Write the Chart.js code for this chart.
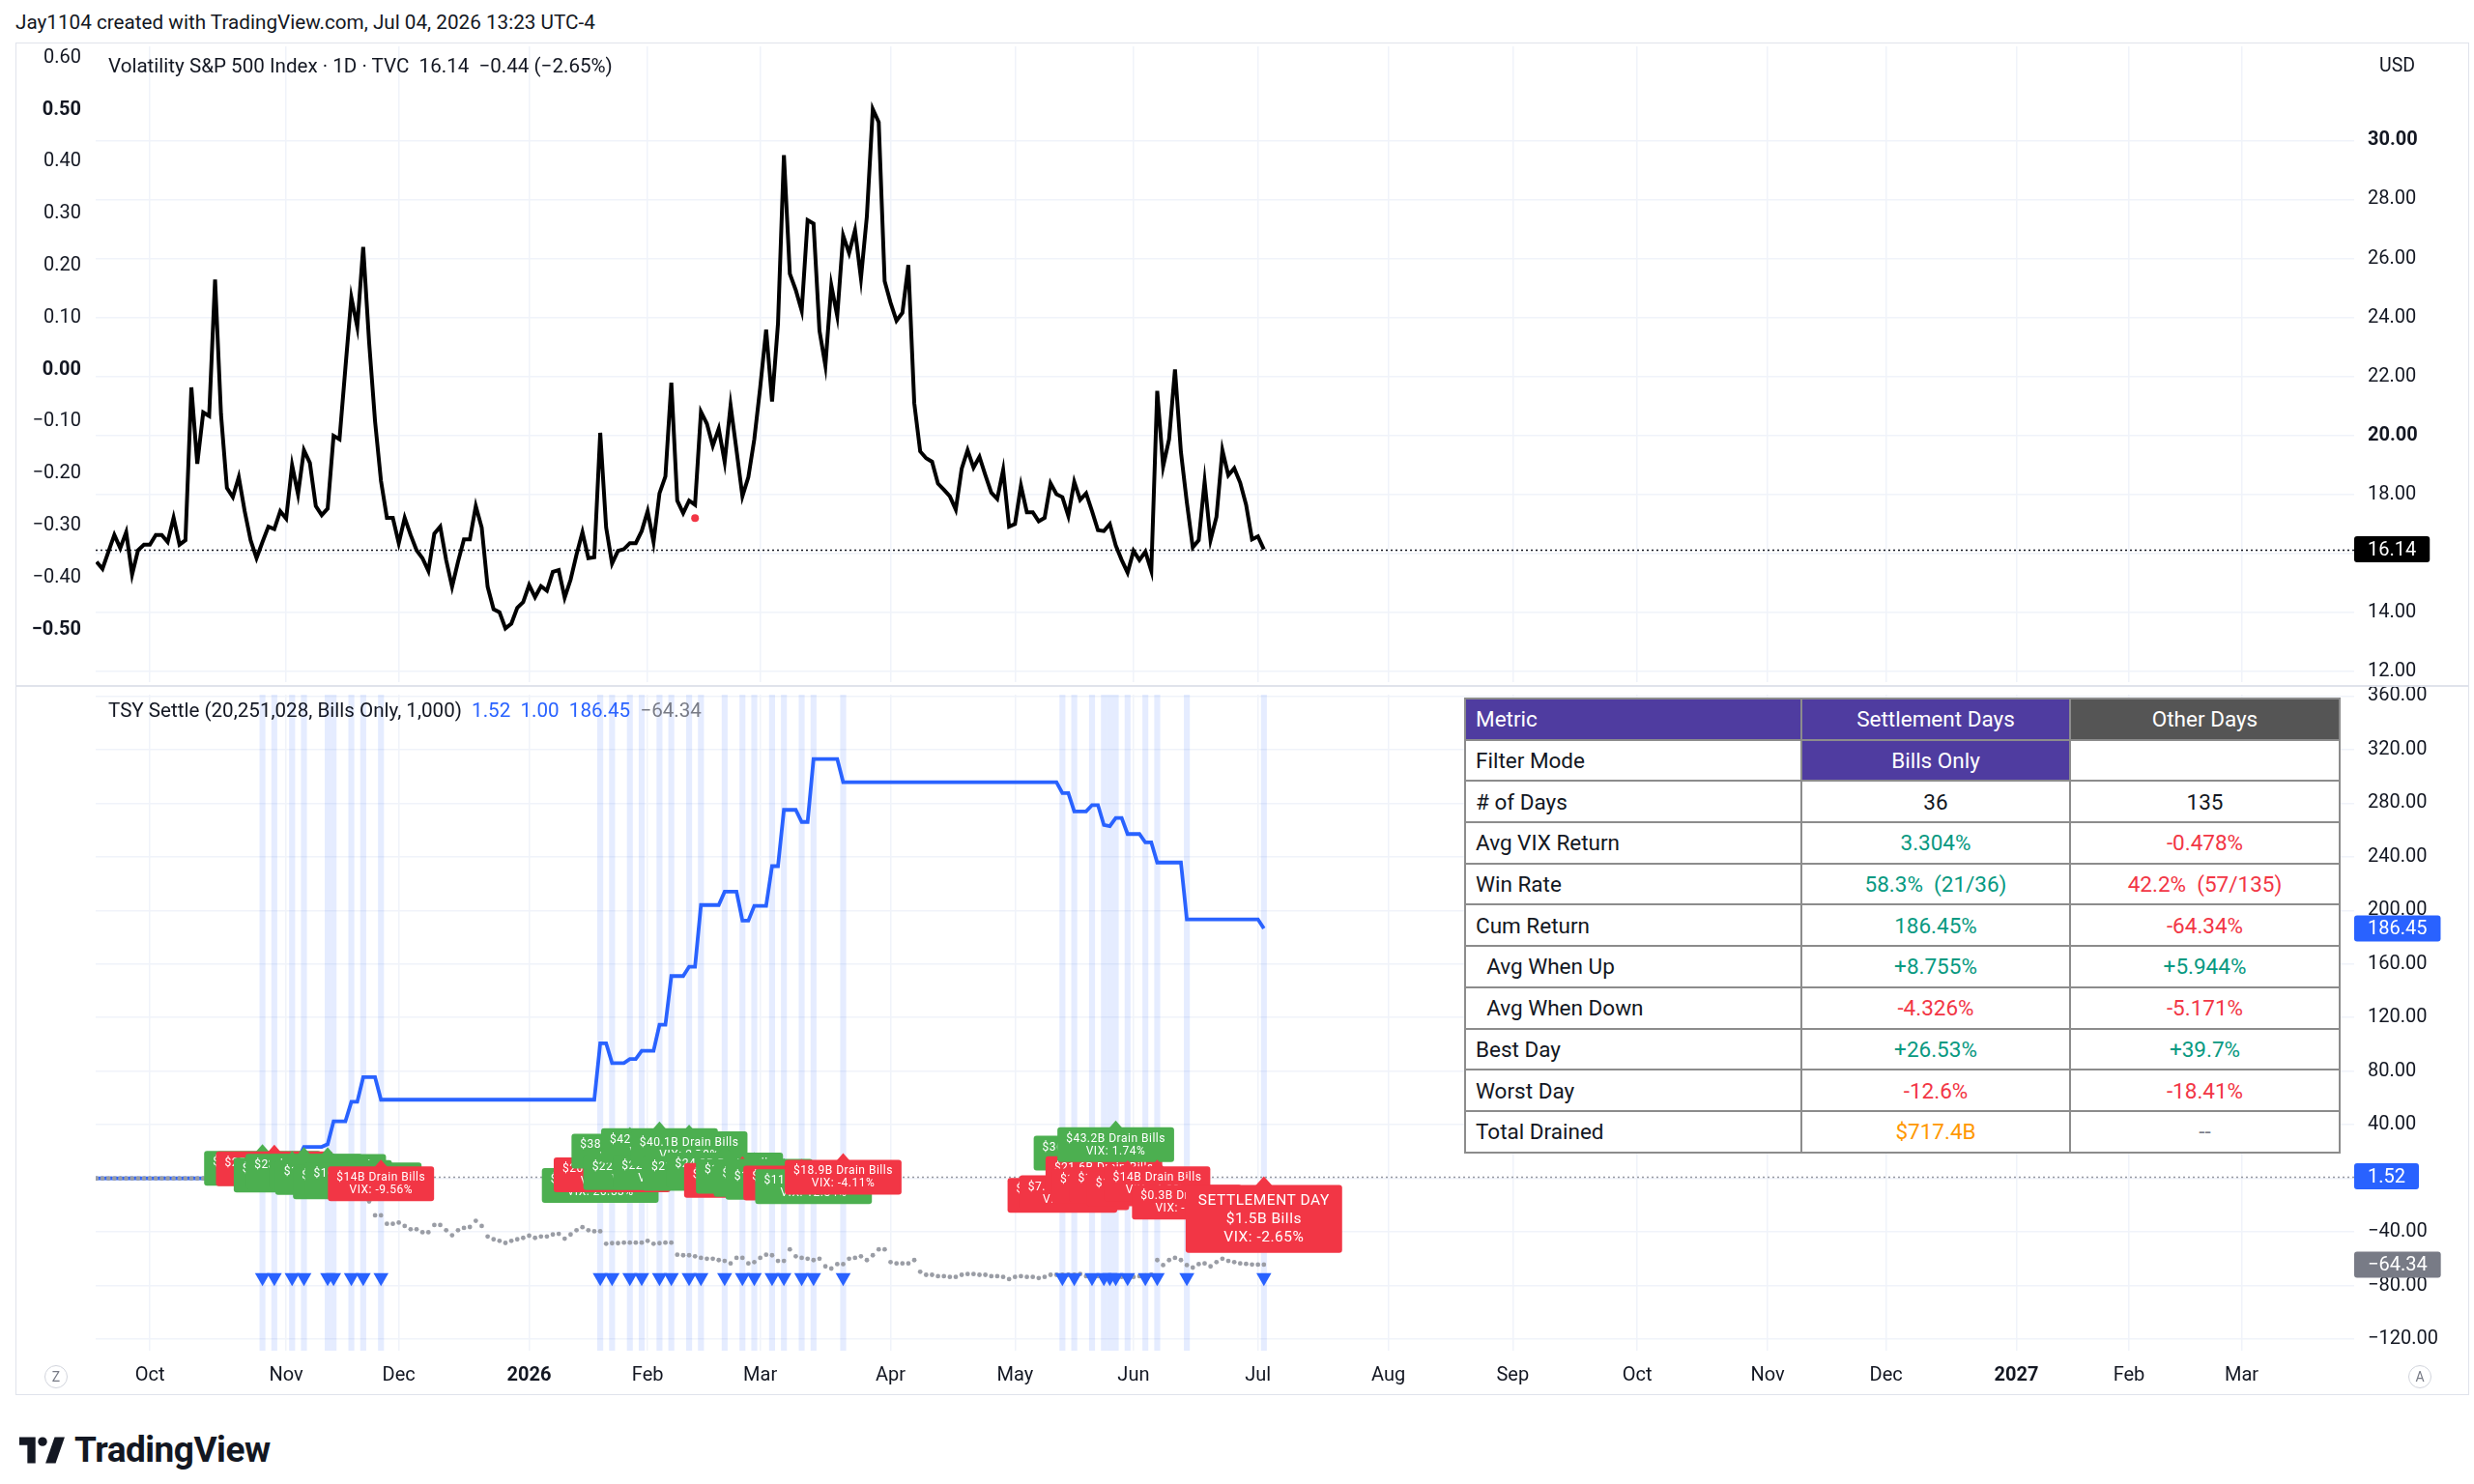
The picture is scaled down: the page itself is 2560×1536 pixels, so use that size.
<!DOCTYPE html>
<html>
<head>
<meta charset="utf-8">
<title>VIX / TSY Settle</title>
<script src="https://cdn.jsdelivr.net/npm/chart.js@4.4.1/dist/chart.umd.min.js"></script>
<style>
  body { margin:0; width:2560px; height:1536px; background:#fff; overflow:hidden; position:relative;
         font-family: Roboto, "Liberation Sans", sans-serif; color:#131722; }
  .abs { position:absolute; }
  #credit { left:16px; top:11px; font-size:20.7px; }
  #frame { left:16px; top:44px; width:2539px; height:1400px; border:1.5px solid #e0e3eb; box-sizing:border-box; }
  #sep { left:16px; top:709px; width:2539px; height:2px; background:#e0e3eb; }
  #topCanvas { left:16px; top:44px; }
  #botCanvas { left:16px; top:710px; }
  .legend { font-size:20.6px; white-space:pre; }
  #legTop { left:112px; top:56px; }
  #legBot { left:112px; top:723px; }
  .blue { color:#2962ff; }
  .grey { color:#787b86; }
  #usd { left:2462px; top:56px; font-size:19.5px; }
  .btn { width:22px; height:22px; border-radius:50%; border:1px solid #d1d4dc; font-size:14px; color:#787b86;
         display:flex; align-items:center; justify-content:center; }
  #stats { left:1515px; top:722px; border-collapse:collapse; font-size:22.5px; background:#fff; }
  #stats td { border:2px solid #8c8c8c; padding:0 10px; white-space:pre; height:42.7px; box-sizing:border-box; }
  #logo { left:20px; top:1479px; display:flex; align-items:center; gap:9px; }
</style>
</head>
<body>
<div id="credit" class="abs">Jay1104 created with TradingView.com, Jul 04, 2026 13:23 UTC-4</div>
<div id="frame" class="abs"></div>
<canvas id="topCanvas" class="abs" width="2539" height="666"></canvas>
<canvas id="botCanvas" class="abs" width="2539" height="734"></canvas>
<div id="sep" class="abs"></div>
<div id="legTop" class="abs legend">Volatility S&amp;P 500 Index · 1D · TVC  16.14  −0.44 (−2.65%)</div>
<div id="legBot" class="abs legend">TSY Settle (20,251,028, Bills Only, 1,000)  <span class="blue">1.52  1.00  186.45</span>  <span class="grey">−64.34</span></div>
<div id="usd" class="abs">USD</div>
<div class="abs btn" style="left:46px;top:1413px">Z</div>
<div class="abs btn" style="left:2492px;top:1413px">A</div>
<table id="stats" class="abs"></table>
<div id="logo" class="abs">
  <svg width="48" height="28" viewBox="0 0 46 26"><path d="M0 0H16V26H8V8H0Z" fill="#131722"/><circle cx="23" cy="4.5" r="4.5" fill="#131722"/><path d="M26 26L35 0H45L36 26Z" fill="#131722"/></svg>
  <span style="font-size:37px;font-weight:700;letter-spacing:-0.5px">TradingView</span>
</div>

<script>
// bar index 0 = first daily bar on the chart; month ticks sit on the first bar of each month
const monthIdx    = [9, 32, 51, 73, 93, 112, 134, 155, 175, 196, 218, 239, 260, 282, 302, 324, 343, 362]
const monthLabels = ['Oct','Nov','Dec','2026','Feb','Mar','Apr','May','Jun','Jul','Aug','Sep','Oct','Nov','Dec','2027','Feb','Mar']

// VIX daily close
const vixClose = [
  15.72,15.48,16.06,16.63,16.18,16.72,15.29,16.11,16.30,16.30,
  16.63,16.63,16.39,17.21,16.30,16.45,21.63,19.04,20.78,20.66,
  25.29,20.72,18.22,17.91,18.59,17.43,16.45,15.84,16.39,16.91,
  16.83,17.43,17.18,18.99,18.01,19.50,19.07,17.61,17.30,17.52,
  19.99,19.87,22.30,24.68,23.68,26.39,23.16,20.48,18.46,17.21,
  17.21,16.35,17.21,16.63,16.11,15.84,15.41,16.67,16.91,15.78,
  14.87,15.72,16.48,16.48,17.61,16.88,14.87,14.11,14.01,13.46,
  13.62,14.16,14.35,14.93,14.52,14.89,14.74,15.38,15.44,14.50,
  15.11,15.96,16.72,15.84,15.87,20.09,16.88,15.66,16.09,16.15,
  16.35,16.35,16.76,17.43,16.39,18.04,18.61,21.79,17.79,17.37,
  17.79,17.65,20.80,20.40,19.65,20.23,19.10,21.02,19.50,17.94,
  18.59,19.87,21.63,23.59,21.15,23.79,29.50,25.48,24.93,24.23,
  27.30,27.18,23.55,22.37,25.09,24.05,26.78,26.18,26.96,25.33,
  27.43,31.06,30.62,25.23,24.50,23.89,24.16,25.78,21.09,19.46,
  19.23,19.11,18.37,18.16,17.94,17.49,18.87,19.50,18.91,19.28,
  18.65,18.06,17.85,18.83,16.91,17.00,18.30,17.40,17.40,17.09,
  17.21,18.38,18.01,17.91,17.27,18.43,17.82,18.04,17.43,16.79,
  16.76,17.00,16.27,15.78,15.35,16.09,15.78,16.06,15.41,21.51,
  18.95,19.87,22.24,19.44,17.73,16.21,16.45,18.44,16.45,17.24,
  19.50,18.65,18.89,18.40,17.65,16.48,16.58,16.14
]
const redDotIdx = [101]
const redDotVal = [17.2]

// settlement days: bar index, cumulative return after the day (%), VIX move that day (%), bills drained ($B)
const settleDays = [28,30,33,35,39,40,43,45,48, 85,87,90,92,95,97,100,102,106,109,111,114,116,119,121,126,
                    163,165,168,170,171,172,174,177,179,184,197]
const settleCum = [3.5,3.0,14.4,23.5,25.5,42.6,57.1,75.5,58.7,
                   100.8,86,89,95.2,114.6,151,158,204,214,192.3,203.4,233,275,266,313,295.7,
                   287.5,273.9,278.6,263.7,262.8,269,257,250.7,235.7,193.3,186.45]
const settleVixPct = [3.50,-0.48,11.07,7.95,1.62,13.63,10.17,11.72,-9.56,
                      26.53,-7.37,1.61,3.28,9.94,16.96,2.79,17.83,3.29,-6.91,3.80,9.76,12.61,-2.40,12.84,-4.11,
                      -2.15,-3.52,1.26,-3.94,-0.25,1.74,-3.25,-1.76,-4.28,-12.6,-2.65]
const settleDrain = [25.6,25.2,20.5,23.4,23.1,18.7,15.5,16.8,14.0,
                     12.8,20.6,38.4,22.3,42.5,22.7,40.1,21.8,24.3,16.5,19.6,17.2,15.1,14.6,11.9,18.9,
                     5.4,7.3,36.8,21.6,12.4,43.2,13.5,10.2,14.0,0.3,1.52]

// cumulative return of the other (non-settlement) days, one value per bar
const otherCum = [
  0,0,0,0,0,0,0,0,0,0, 0,0,0,0,0,0,0,0,0,0, 0,0,0,0,0,0,0,0,
  0,3.2,3.2,6.4,4.9,4.9,-0.6,-0.6,-2.7,-10.2,-11.8,-11.8,-11.8,-12.4,-1.7,-1.7,-5.7,-5.7,-17.2,
  -27.6,-27.6,-33.9,-33.9,-33,-35.5,-38,-38,-40.2,-40.2,-34.8,-34.8,-38.7,-42.5,-38.7,-37,-36.3,
  -31.7,-35.5,-43.4,-45.5,-46.6,-48.2,-46.6,-45.5,-44.4,-42.8,-44.4,-43.4,-43.4,-41.9,-41.4,-45,
  -41.9,-38.7,-36.4,-38.7,-39.5,-39.5,-48.8,-48.4,-48.4,-48,-48,-48,-48,-46.6,-48.8,-48.4,-48,-48,
  -57,-57.4,-57.4,-58.2,-59.3,-60,-60,-61,-61.6,-63.5,-59.3,-59.3,-63.5,-62.5,-59.3,-57,-57.4,
  -61.6,-61.6,-53,-58.2,-59.3,-60,-61,-60,-65.7,-67.3,-64,-64,-60,-59.3,-58.2,-61,-57.4,-53,-53,
  -62.5,-63.5,-63.5,-63.5,-61,-69.7,-72,-72,-73,-73,-73.6,-73.6,-72,-71.4,-71.4,-72,-72,-73,-73,
  -73.6,-75.2,-73.6,-73,-73.6,-73.6,-74.4,-73.6,-72,-72,-72,-72,-72,-71.4,-73,-73,-73,-73,-73,-73,
  -73.6,-73.6,-73.6,-73,-72.5,-72,-61,-64.7,-61,-59.3,-61,-64.7,-66.6,-64,-63.5,-65.7,-62.5,-60,
  -61.6,-62.5,-63.5,-63.8,-64.3,-64.34,-64.34
]
const TRIANGLE_LEVEL = -74

const leftTicks = [0.6,0.5,0.4,0.3,0.2,0.1,0,-0.1,-0.2,-0.3,-0.4,-0.5]
const vixTicks  = [12,14,16,18,20,22,24,26,28,30]
const tsyTicks  = [-120,-80,-40,0,40,80,120,160,200,240,280,320,360]

// stats table
const statHead   = ['Metric','Settlement Days','Other Days']
const statMetric = ['Filter Mode','# of Days','Avg VIX Return','Win Rate','Cum Return','  Avg When Up','  Avg When Down','Best Day','Worst Day','Total Drained']
const statSettle = ['Bills Only','36','3.304%','58.3%  (21/36)','186.45%','+8.755%','-4.326%','+26.53%','-12.6%','$717.4B']
const statOther  = ['','135','-0.478%','42.2%  (57/135)','-64.34%','+5.944%','-5.171%','+39.7%','-18.41%','--']

const GREEN = '#089981', RED = '#f23645'
const colorOf = t => t === '--' ? '#787b86' : t.startsWith('$') ? '#ff9800' : t.startsWith('-') ? RED : (t.includes('%') ? GREEN : '#131722')

// build table
let html = '<tr>' + statHead.map((h, i) =>
  `<td style="width:${[348,278,279][i]}px;background:${i == 2 ? '#555555' : '#4f3ca0'};color:#fff;text-align:${i ? 'center' : 'left'}">${h}</td>`).join('') + '</tr>'
statMetric.forEach((m, r) => {
  let s = statSettle[r], o = statOther[r]
  let sStyle = r == 0 ? 'background:#4f3ca0;color:#fff' : 'color:' + (r == 3 ? GREEN : colorOf(s))
  let oStyle = 'color:' + (r == 3 ? RED : colorOf(o))
  html += `<tr><td>${m}</td><td style="text-align:center;${sStyle}">${s}</td><td style="text-align:center;${oStyle}">${o}</td></tr>`
})
document.getElementById('stats').innerHTML = html

// ---- helpers ----
const fmt = (v, d) => (v < 0 ? '\u2212' : '') + Math.abs(v).toFixed(d)
const short = (v, d) => String(Number(v.toFixed(d)))
const AXIS_FONT = 20
const FONT = 'Roboto, "Liberation Sans", sans-serif'
Chart.defaults.font.family = FONT
Chart.defaults.color = '#131722'

function roundRect(ctx, x, y, w, h, r) {
  ctx.beginPath()
  ctx.moveTo(x + r, y)
  ctx.arcTo(x + w, y, x + w, y + h, r)
  ctx.arcTo(x + w, y + h, x, y + h, r)
  ctx.arcTo(x, y + h, x, y, r)
  ctx.arcTo(x, y, x + w, y, r)
  ctx.closePath()
}

function xAxis(showLabels) {
  return {
    type: 'linear', min: -0.15, max: 381,
    afterBuildTicks: s => { s.ticks = monthIdx.map(v => ({ value: v })) },
    ticks: {
      display: showLabels, autoSkip: false, maxRotation: 0, padding: 14,
      callback: (v, i) => monthLabels[i],
      font: c => ({ size: AXIS_FONT, weight: /^\d{4}$/.test(monthLabels[c.index] || '') ? 'bold' : 'normal' })
    },
    grid: { color: '#f0f3fa', lineWidth: 1.5, drawTicks: false },
    border: { display: false },
    afterFit: s => { s.height = showLabels ? 46 : 0; s.paddingLeft = 0; s.paddingRight = 0 }
  }
}

function yAxis(pos, min, max, ticks, label, bold, grid) {
  return {
    type: 'linear', position: pos, min: min, max: max,
    afterBuildTicks: s => { s.ticks = ticks.map(v => ({ value: v })) },
    ticks: {
      display: !!label, padding: pos == 'left' ? 15 : 14,
      callback: v => label ? label(v) : '',
      font: c => ({ size: AXIS_FONT, weight: bold && c.tick && bold(c.tick.value) ? 'bold' : 'normal' })
    },
    grid: { display: grid, color: '#f0f3fa', lineWidth: 1.5, drawTicks: false },
    border: { display: false },
    afterFit: s => { s.width = pos == 'left' ? 83 : 119; s.paddingTop = 0; s.paddingBottom = 0 }
  }
}

// dotted last-value lines
const priceLines = {
  id: 'priceLines',
  beforeDatasetsDraw(chart, args, opts) {
    const { ctx, chartArea: a } = chart
    const y = chart.scales.yR
    ctx.save()
    ctx.lineWidth = 1.3
    ctx.setLineDash([2, 3])
    ;(opts.lines || []).forEach(l => {
      const py = Math.round(y.getPixelForValue(l.v)) + 0.5
      ctx.strokeStyle = l.color
      ctx.beginPath(); ctx.moveTo(a.left, py); ctx.lineTo(a.right, py); ctx.stroke()
    })
    ctx.restore()
  }
}

// value badges on the right scale
const badges = {
  id: 'badges',
  afterDraw(chart, args, opts) {
    const { ctx, chartArea: a } = chart
    const y = chart.scales.yR
    ctx.save()
    ctx.font = AXIS_FONT + 'px ' + FONT
    ctx.textBaseline = 'middle'
    ;(opts.items || []).forEach(b => {
      const t = fmt(b.v, 2)
      const w = ctx.measureText(t).width + 28, h = 27
      const py = y.getPixelForValue(b.v)
      ctx.fillStyle = b.bg
      roundRect(ctx, a.right, py - h / 2, w, h, 3); ctx.fill()
      ctx.fillStyle = '#fff'
      ctx.fillText(t, a.right + 14, py + 1)
    })
    ctx.restore()
  }
}

// light blue background on settlement days
const bands = {
  id: 'bands',
  beforeDatasetsDraw(chart) {
    const { ctx, chartArea: a, scales: { x } } = chart
    const bw = x.getPixelForValue(1) - x.getPixelForValue(0)
    ctx.save()
    ctx.fillStyle = 'rgba(41,98,255,0.12)'
    settleDays.forEach(d => {
      const px = x.getPixelForValue(d)
      ctx.fillRect(px - bw / 2, a.top, bw, a.bottom - a.top)
    })
    ctx.restore()
  }
}

// label_up boxes for each settlement day
const settleLabels = {
  id: 'settleLabels',
  afterDatasetsDraw(chart) {
    const { ctx, scales: { x, yR } } = chart
    ctx.save()
    if ('letterSpacing' in ctx) ctx.letterSpacing = '0.5px'
    settleDays.forEach((d, k) => {
      const last = k == settleDays.length - 1
      const pct = 'VIX: ' + short(settleVixPct[k], 2) + '%'
      const lines = last
        ? ['SETTLEMENT DAY', '$' + short(settleDrain[k], 1) + 'B Bills', pct]
        : ['$' + short(settleDrain[k], 1) + 'B Drain Bills', pct]
      const fs = last ? 15.5 : 12, lh = last ? 18.7 : 13, pad = last ? 7 : 5
      ctx.font = fs + 'px ' + FONT
      const w = Math.max(...lines.map(t => ctx.measureText(t).width)) + (last ? 26 : 18)
      const h = lines.length * lh + pad * 2
      const px = x.getPixelForValue(d), py = yR.getPixelForValue(settleDrain[k])
      const ar = last ? 9 : 7
      const top = py + ar
      ctx.fillStyle = settleVixPct[k] >= 0 ? '#4caf50' : '#f23645'
      ctx.beginPath(); ctx.moveTo(px, py); ctx.lineTo(px - ar, top + 1); ctx.lineTo(px + ar, top + 1); ctx.closePath(); ctx.fill()
      roundRect(ctx, px - w / 2, top, w, h, 3); ctx.fill()
      ctx.fillStyle = '#fff'
      ctx.textAlign = 'center'
      ctx.textBaseline = 'middle'
      lines.forEach((t, j) => ctx.fillText(t, px, top + pad + lh * (j + 0.5) + 0.5))
    })
    ctx.restore()
  }
}

const base = {
  responsive: false, animation: false, devicePixelRatio: 1, events: [],
  layout: { padding: 0 }
}

// ---- top pane: VIX ----
new Chart(document.getElementById('topCanvas'), {
  type: 'line',
  data: {
    datasets: [
      { type: 'scatter', data: redDotIdx.map((d, i) => ({ x: d, y: redDotVal[i] })), yAxisID: 'yR',
        pointRadius: 4, pointBackgroundColor: '#f23645', pointBorderWidth: 0, order: 1 },
      { data: vixClose.map((v, i) => ({ x: i, y: v })), yAxisID: 'yR', borderColor: '#000000',
        borderWidth: 4, pointRadius: 0, tension: 0, order: 2 }
    ]
  },
  options: Object.assign({}, base, {
    plugins: {
      legend: { display: false }, tooltip: { enabled: false },
      priceLines: { lines: [{ v: vixClose[vixClose.length - 1], color: '#131722' }] },
      badges: { items: [{ v: vixClose[vixClose.length - 1], bg: '#000000' }] }
    },
    scales: {
      x: xAxis(false),
      yL: yAxis('left', -0.601, 0.622, leftTicks, v => fmt(v, 2), v => Math.abs(v * 2 - Math.round(v * 2)) < 1e-6, false),
      yR: yAxis('right', 11.64, 33.19, vixTicks, v => fmt(v, 2), v => v % 10 == 0, true)
    }
  }),
  plugins: [priceLines, badges]
})

// ---- bottom pane: TSY Settle ----
const settleLine = []
let cur = 0, k = 0
for (let i = 0; i < vixClose.length; i++) {
  if (settleDays[k] === i) { cur = settleCum[k]; k++ }
  settleLine.push({ x: i, y: cur })
}

new Chart(document.getElementById('botCanvas'), {
  type: 'line',
  data: {
    datasets: [
      { type: 'scatter', data: settleDays.map(d => ({ x: d, y: TRIANGLE_LEVEL })), yAxisID: 'yR',
        pointStyle: 'triangle', rotation: 180, pointRadius: 9, pointBackgroundColor: '#2962ff', pointBorderWidth: 0, order: 1 },
      { type: 'scatter', data: otherCum.map((v, i) => ({ x: i, y: v })), yAxisID: 'yR',
        pointRadius: 2.4, pointBackgroundColor: '#9a9da5', pointBorderWidth: 0, order: 2 },
      { data: settleLine, yAxisID: 'yR', borderColor: '#2962ff', borderWidth: 3.8, pointRadius: 0, tension: 0, order: 3 }
    ]
  },
  options: Object.assign({}, base, {
    plugins: {
      legend: { display: false }, tooltip: { enabled: false },
      priceLines: { lines: [{ v: settleDrain[settleDrain.length - 1], color: '#9598a1' }] },
      badges: { items: [
        { v: settleCum[settleCum.length - 1], bg: '#2962ff' },
        { v: settleDrain[settleDrain.length - 1], bg: '#2962ff' },
        { v: otherCum[otherCum.length - 1], bg: '#787b86' }
      ] }
    },
    scales: {
      x: xAxis(true),
      yL: yAxis('left', 0, 1, [], null, null, false),
      yR: yAxis('right', -128.6, 361, tsyTicks, v => fmt(v, 2), null, true)
    }
  }),
  plugins: [bands, priceLines, settleLabels, badges]
})
</script>
</body>
</html>
